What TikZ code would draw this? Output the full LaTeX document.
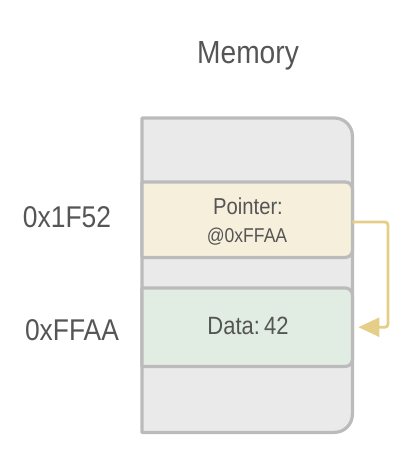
\documentclass[tikz,border=0pt]{standalone}
\usepackage{fontspec}
\setmainfont[FakeStretch=0.88]{Liberation Sans}
\usetikzlibrary{arrows.meta}
\definecolor{txt}{HTML}{555555}
\definecolor{edge}{HTML}{BBBBBB}
\definecolor{memfill}{HTML}{EAEAEA}
\definecolor{ptrfill}{HTML}{F6EFDC}
\definecolor{datafill}{HTML}{E1EDE3}
\definecolor{arrowc}{HTML}{E5CE88}
\tikzset{
  cell/.style={draw=none, inner sep=0pt, minimum width=210pt},
  outline/.style={draw=edge, line width=3.2pt, line join=round},
  lbl/.style={text=txt, inner sep=0pt},
  ptrarrow/.style={draw=arrowc, line width=2.8pt, rounded corners=3pt,
    -{Triangle[length=21pt,width=19pt]}, shorten >=6pt}
}
\begin{document}
\begin{tikzpicture}[x=1pt,y=-1pt]
\useasboundingbox (0,0) rectangle (411,455);
% memory outer
\node[cell, minimum height=314pt, anchor=north west] (mem) at (142,118) {};
\fill[memfill] (mem.north west) [rounded corners=18pt] -- (mem.north east) -- (mem.south east) [sharp corners] -- (mem.south west) -- cycle;
\draw[outline] (mem.north west) [rounded corners=18pt] -- (mem.north east) -- (mem.south east) [sharp corners] -- (mem.south west) -- cycle;
% pointer cell
\node[cell, minimum height=75pt, anchor=north west] (ptr) at (142,182) {};
\fill[ptrfill] (ptr.north west) [rounded corners=7pt] -- (ptr.north east) -- (ptr.south east) [sharp corners] -- (ptr.south west) -- cycle;
\draw[outline] (ptr.north west) [rounded corners=7pt] -- (ptr.north east) -- (ptr.south east) [sharp corners] -- (ptr.south west) -- cycle;
% data cell
\node[cell, minimum height=78pt, anchor=north west] (data) at (142,288) {};
\fill[datafill] (data.north west) [rounded corners=7pt] -- (data.north east) -- (data.south east) [sharp corners] -- (data.south west) -- cycle;
\draw[outline] (data.north west) [rounded corners=7pt] -- (data.north east) -- (data.south east) [sharp corners] -- (data.south west) -- cycle;
% texts
\node[lbl, anchor=base] (title) at (248,63) {\fontsize{32}{36}\selectfont Memory};
\node[lbl, anchor=base] (ptrtxt) at (248,214) {\fontsize{23}{26}\selectfont Pointer:};
\node[lbl, anchor=base] (ptraddr) at (247,242) {\fontsize{20}{24}\selectfont @0xFFAA};
\node[lbl, anchor=base] (datatxt) at (248,334) {\fontsize{25}{28}\selectfont Data:\,42};
\node[lbl, anchor=base] (addr1) at (67,227) {\fontsize{30}{34}\selectfont 0x1F52};
\node[lbl, anchor=base] (addr2) at (72,340) {\fontsize{30}{34}\selectfont 0xFFAA};
% pointer arrow
\coordinate (bend) at (388,222);
\draw[ptrarrow] (ptr.east |- bend) -- (bend) |- (data.east);
\end{tikzpicture}
\end{document}
